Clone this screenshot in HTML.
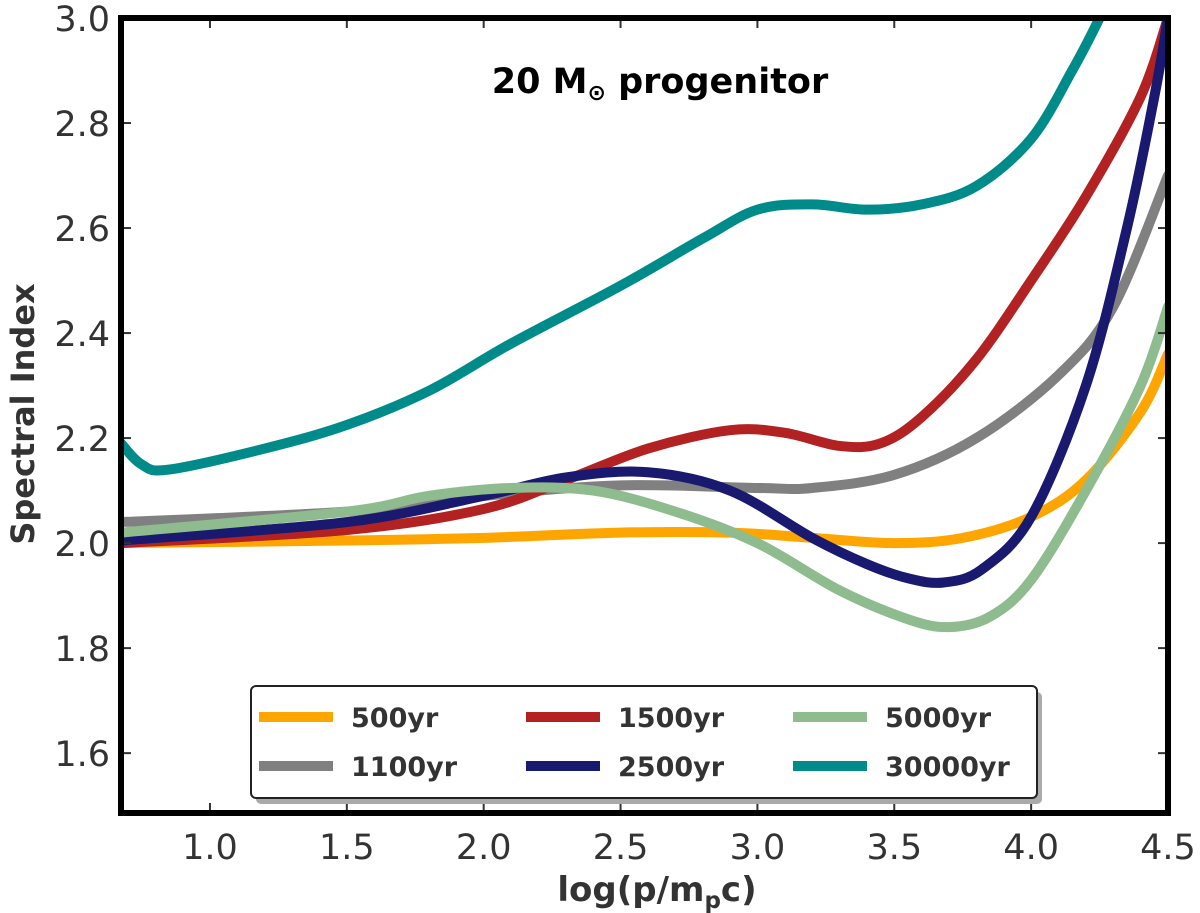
<!DOCTYPE html>
<html><head><meta charset="utf-8"><style>
body{margin:0;background:#fff}
svg{display:block;font-family:"DejaVu Sans","Liberation Sans",sans-serif}
</style></head><body>
<svg id="c" width="1200" height="913" viewBox="0 0 1200 913">
<defs><clipPath id="pc"><rect x="121" y="18" width="1047" height="795"/></clipPath></defs>
<g id="curves" clip-path="url(#pc)"></g>
<g id="ticks"></g>
<rect x="121" y="18" width="1047" height="795" fill="none" stroke="#000" stroke-width="6"/>
<text x="660" y="93" text-anchor="middle" font-weight="bold" font-size="35">20 M<tspan font-size="22" dy="7">⊙</tspan><tspan dy="-7"> progenitor</tspan></text>
<text transform="translate(34,414) rotate(-90)" text-anchor="middle" font-weight="bold" font-size="32" fill="#333">Spectral Index</text>
<text x="657" y="901" text-anchor="middle" font-weight="bold" font-size="34" fill="#333">log(p/m<tspan font-size="23" dy="7">p</tspan><tspan dy="-7">c)</tspan></text>
<g>
<rect x="256" y="692" width="786" height="112" rx="5" fill="#aaa"/>
<rect x="251" y="686" width="786" height="112" rx="5" fill="#fff" stroke="#222" stroke-width="2"/>
<g id="leg"></g>
</g>
</svg>
<script>
const xMin=0.675,xMax=4.5,yMin=1.486,yMax=3.0;
const xTicks=[1.0,1.5,2.0,2.5,3.0,3.5,4.0,4.5];
const yTicks=[1.6,1.8,2.0,2.2,2.4,2.6,2.8,3.0];
const names=["500yr","1100yr","1500yr","2500yr","5000yr","30000yr"];
const colors=["#ffa500","#808080","#b22222","#191970","#8fbc8f","#008b8b"];
const x500=[0.675,1.5,2.0,2.5,2.9,3.2,3.5,3.75,4.0,4.2,4.4,4.5];
const y500=[2.0,2.005,2.01,2.02,2.02,2.01,2.0,2.01,2.05,2.12,2.25,2.36];
const x1100=[0.675,1.5,2.0,2.5,3.0,3.2,3.5,3.8,4.1,4.3,4.5];
const y1100=[2.04,2.06,2.09,2.11,2.105,2.105,2.13,2.2,2.32,2.45,2.7];
const x1500=[0.675,1.5,2.0,2.3,2.6,2.9,3.1,3.3,3.45,3.6,3.8,4.0,4.2,4.4,4.5];
const y1500=[2.0,2.025,2.065,2.12,2.18,2.215,2.21,2.185,2.19,2.24,2.35,2.5,2.66,2.85,3.0];
const x2500=[0.675,1.5,2.0,2.3,2.6,2.9,3.2,3.4,3.55,3.68,3.82,4.0,4.2,4.35,4.45,4.5];
const y2500=[2.005,2.04,2.09,2.125,2.135,2.1,2.01,1.96,1.933,1.925,1.95,2.05,2.3,2.6,2.85,3.0];
const x5000=[0.675,1.5,1.8,2.1,2.4,2.7,3.0,3.3,3.55,3.7,3.85,4.0,4.2,4.4,4.5];
const y5000=[2.02,2.06,2.09,2.105,2.1,2.06,2.0,1.91,1.855,1.84,1.86,1.93,2.1,2.3,2.45];
const x30000=[0.675,0.75,0.85,1.2,1.5,1.8,2.1,2.5,2.8,3.0,3.2,3.4,3.6,3.8,4.0,4.15,4.25,4.3];
const y30000=[2.19,2.15,2.14,2.18,2.225,2.29,2.38,2.49,2.58,2.635,2.645,2.635,2.645,2.68,2.77,2.9,3.0,3.06];
const xs=[x500,x1100,x1500,x2500,x5000,x30000], ys=[y500,y1100,y1500,y2500,y5000,y30000];
const L=121,R=1168,T=18,B=813;
const sx=v=>L+(v-xMin)/(xMax-xMin)*(R-L), sy=v=>B-(v-yMin)/(yMax-yMin)*(B-T);
const NS="http://www.w3.org/2000/svg";
function mk(t,a,p){const e=document.createElementNS(NS,t);for(const k in a)e.setAttribute(k,a[k]);p.appendChild(e);return e;}
function path(px,py){const P=px.map((x,i)=>[sx(x),sy(py[i])]);let d="M"+P[0][0]+","+P[0][1];
for(let i=0;i<P.length-1;i++){const p0=P[i-1]||P[i],p1=P[i],p2=P[i+1],p3=P[i+2]||p2;
d+=" C"+(p1[0]+(p2[0]-p0[0])/6)+","+(p1[1]+(p2[1]-p0[1])/6)+" "+(p2[0]-(p3[0]-p1[0])/6)+","+(p2[1]-(p3[1]-p1[1])/6)+" "+p2[0]+","+p2[1];}return d;}
const cg=document.getElementById("curves");
xs.forEach((x,i)=>{const e=mk("path",{d:path(x,ys[i]),fill:"none",stroke:colors[i],"stroke-width":10,"stroke-linecap":"round"},cg);

});
const tg=document.getElementById("ticks");
xTicks.forEach(v=>{const x=sx(v);
mk("line",{x1:x,x2:x,y1:B,y2:B-10,stroke:"#333","stroke-width":2},tg);
mk("line",{x1:x,x2:x,y1:T,y2:T+10,stroke:"#333","stroke-width":2},tg);
const t=mk("text",{x:x,y:B+46,"text-anchor":"middle","font-size":35,fill:"#333"},tg);t.textContent=v.toFixed(1);

});
yTicks.forEach(v=>{const y=sy(v);
mk("line",{x1:L,x2:L+10,y1:y,y2:y,stroke:"#333","stroke-width":2},tg);
mk("line",{x1:R,x2:R-10,y1:y,y2:y,stroke:"#333","stroke-width":2},tg);
const t=mk("text",{x:L-11,y:y+13,"text-anchor":"end","font-size":35,fill:"#333"},tg);t.textContent=v.toFixed(1);

});
const lg=document.getElementById("leg");
const order=[0,2,4,1,3,5];
order.forEach((s,k)=>{const col=k%3,row=Math.floor(k/3);const x0=259+col*267,y0=717+row*49;
const g=mk("g",{},lg);


mk("line",{x1:x0,x2:x0+74,y1:y0,y2:y0,stroke:colors[s],"stroke-width":10},g);
const t=mk("text",{x:x0+92,y:y0+10,"font-size":27,"font-weight":"bold",fill:"#333"},g);t.textContent=names[s];});
</script>
</body></html>
